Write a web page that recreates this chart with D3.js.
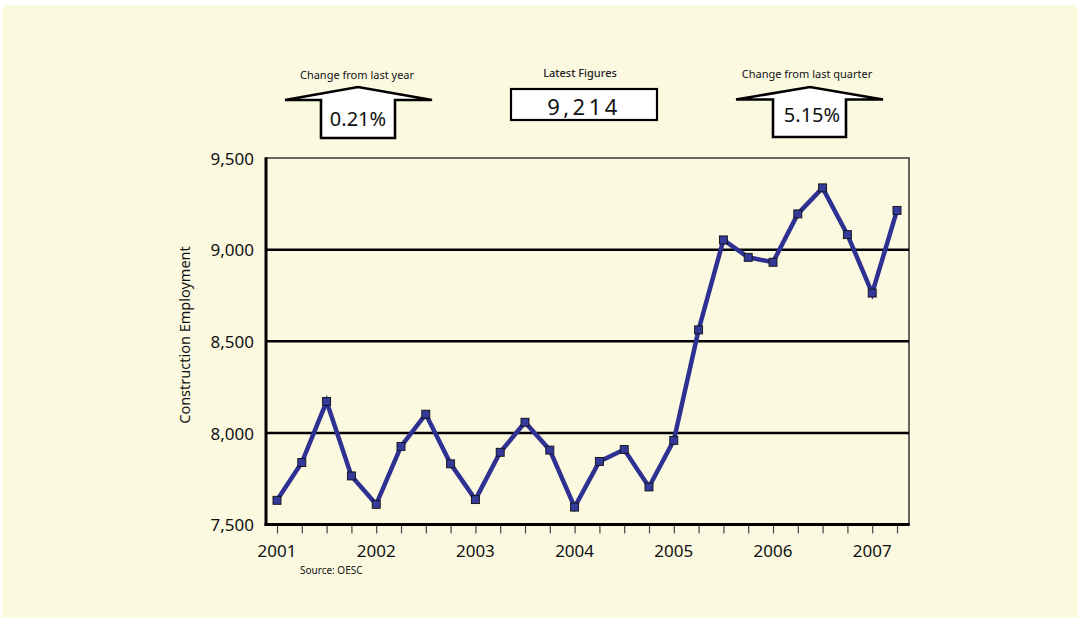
<!DOCTYPE html>
<html><head><meta charset="utf-8">
<script src="https://cdn.jsdelivr.net/npm/d3@7"></script>
<style>html,body{margin:0;padding:0;background:#fff;}svg{display:block;}</style>
</head><body>
<svg id="chart" width="1080" height="621"></svg>
<script>
// ---- data ----
const years = [2001, 2001.25, 2001.5, 2001.75, 2002, 2002.25, 2002.5, 2002.75,
  2003, 2003.25, 2003.5, 2003.75, 2004, 2004.25, 2004.5, 2004.75,
  2005, 2005.25, 2005.5, 2005.75, 2006, 2006.25, 2006.5, 2006.75, 2007, 2007.25];
const employment = [7632, 7838, 8171, 7765, 7610, 7926, 8102, 7831,
  7636, 7894, 8058, 7906, 7595, 7844, 7909, 7705,
  7959, 8562, 9053, 8958, 8931, 9195, 9337, 9082, 8763, 9214];
const yearLabels = [2001, 2002, 2003, 2004, 2005, 2006, 2007];
const yTicks = [7500, 8000, 8500, 9000, 9500];
const gridValues = [8000, 8500, 9000];
const callouts = [
  {title: "Change from last year", value: "0.21%"},
  {title: "Latest Figures", value: "9,214"},
  {title: "Change from last quarter", value: "5.15%"}
];
const sourceText = "Source: OESC";
const yTitle = "Construction Employment";

// ---- drawing ----
const svg = d3.select("#chart");
const FONT = "'Noto Sans', 'Open Sans', sans-serif";
svg.append("rect").attr("x", 2).attr("y", 5).attr("width", 1076).attr("height", 613)
  .attr("rx", 2).attr("fill", "#fcf9e1");

const plot = {left: 266, right: 909, top: 158, bottom: 524.5};
const x = d3.scaleLinear().domain([2001, 2007.25]).range([277, 897]);
const y = d3.scaleLinear().domain([7500, 9500]).range([plot.bottom, plot.top]);

// top and right thin border
svg.append("path")
  .attr("d", `M${plot.left},${plot.top}H${plot.right}V${plot.bottom}`)
  .attr("fill", "none").attr("stroke", "#333").attr("stroke-width", 1.5);

// gridlines
svg.append("g").selectAll("line").data(gridValues).join("line")
  .attr("x1", plot.left).attr("x2", plot.right)
  .attr("y1", d => y(d)).attr("y2", d => y(d))
  .attr("stroke", "#000").attr("stroke-width", 2.5);

// bottom x axis with quarterly ticks
const xAxis = d3.axisBottom(x).tickValues(years).tickSize(8).tickFormat("");
const gx = svg.append("g").attr("transform", `translate(0,${plot.bottom + 1})`).call(xAxis);
gx.select(".domain").remove();
gx.selectAll(".tick line").attr("stroke", "#444").attr("stroke-width", 1.2);
svg.append("line").attr("x1", plot.left - 1.5).attr("x2", plot.right + 0.75)
  .attr("y1", plot.bottom).attr("y2", plot.bottom)
  .attr("stroke", "#000").attr("stroke-width", 3);

// year labels
svg.append("g").selectAll("text").data(yearLabels).join("text")
  .attr("x", d => x(d)).attr("y", 557)
  .attr("text-anchor", "middle").attr("font-family", FONT).attr("font-size", 17)
  .attr("fill", "#111").text(d => d);

// left y axis
const yAxis = d3.axisLeft(y).tickValues(yTicks).tickSize(0).tickPadding(12)
  .tickFormat(d3.format(","));
const gy = svg.append("g").attr("transform", `translate(${plot.left},0)`).call(yAxis);
gy.select(".domain").remove();
gy.selectAll(".tick text").attr("font-family", FONT).attr("font-size", 17)
  .attr("fill", "#111").attr("dy", "0.36em");
svg.append("line").attr("x1", plot.left).attr("x2", plot.left)
  .attr("y1", plot.top - 0.75).attr("y2", plot.bottom + 1.5)
  .attr("stroke", "#000").attr("stroke-width", 3);

// y title
svg.append("text").attr("transform", "translate(190,335) rotate(-90)")
  .attr("text-anchor", "middle").attr("font-family", FONT).attr("font-size", 14.5)
  .attr("fill", "#111").text(yTitle);

// source
svg.append("text").attr("x", 300).attr("y", 574).attr("font-family", FONT)
  .attr("font-size", 10).attr("fill", "#111").text(sourceText);

// data line
const pts = years.map((t, i) => [t, employment[i]]);
svg.append("path").datum(pts)
  .attr("d", d3.line().x(d => x(d[0])).y(d => y(d[1])))
  .attr("fill", "none").attr("stroke", "#2e3192").attr("stroke-width", 4.5)
  .attr("stroke-linejoin", "miter");
svg.append("g").selectAll("rect").data(pts).join("rect")
  .attr("x", d => x(d[0]) - 4).attr("y", d => y(d[1]) - 4)
  .attr("width", 8).attr("height", 8)
  .attr("fill", "#333a99").attr("stroke", "#111").attr("stroke-width", 0.9);

// callouts
function arrow(cx, left, right, boxL, boxR, baseY, apexY, bottomY) {
  return `M${left},${baseY}L${cx},${apexY}L${right},${baseY}L${boxR},${baseY}` +
    `L${boxR},${bottomY}L${boxL},${bottomY}L${boxL},${baseY}Z`;
}
const c1 = svg.append("g");
c1.append("text").attr("x", 357).attr("y", 79).attr("text-anchor", "middle")
  .attr("font-family", FONT).attr("font-size", 11).attr("fill", "#111").text(callouts[0].title);
c1.append("path").attr("d", arrow(358, 285, 432, 321, 395, 100, 87, 138))
  .attr("fill", "#fff").attr("stroke", "#000").attr("stroke-width", 2.6).attr("stroke-linejoin", "miter");
c1.append("text").attr("x", 358).attr("y", 126).attr("text-anchor", "middle")
  .attr("font-family", FONT).attr("font-size", 20).attr("fill", "#111").text(callouts[0].value);

const c2 = svg.append("g");
c2.append("text").attr("x", 580).attr("y", 77).attr("text-anchor", "middle")
  .attr("font-family", FONT).attr("font-size", 11).attr("font-weight", 500).attr("fill", "#222")
  .text(callouts[1].title);
c2.append("rect").attr("x", 511).attr("y", 89).attr("width", 146).attr("height", 31)
  .attr("fill", "#fff").attr("stroke", "#000").attr("stroke-width", 2.2);
c2.append("text").attr("x", 584).attr("y", 115).attr("text-anchor", "middle")
  .attr("font-family", FONT).attr("font-size", 22).attr("letter-spacing", 3.5)
  .attr("fill", "#111").text(callouts[1].value);

const c3 = svg.append("g");
c3.append("text").attr("x", 807).attr("y", 78).attr("text-anchor", "middle")
  .attr("font-family", FONT).attr("font-size", 11).attr("fill", "#111").text(callouts[2].title);
c3.append("path").attr("d", arrow(810, 736, 883, 773, 846, 99.5, 87, 137))
  .attr("fill", "#fff").attr("stroke", "#000").attr("stroke-width", 2.6).attr("stroke-linejoin", "miter");
c3.append("text").attr("x", 812).attr("y", 122).attr("text-anchor", "middle")
  .attr("font-family", FONT).attr("font-size", 20).attr("fill", "#111").text(callouts[2].value);
</script>
</body></html>
